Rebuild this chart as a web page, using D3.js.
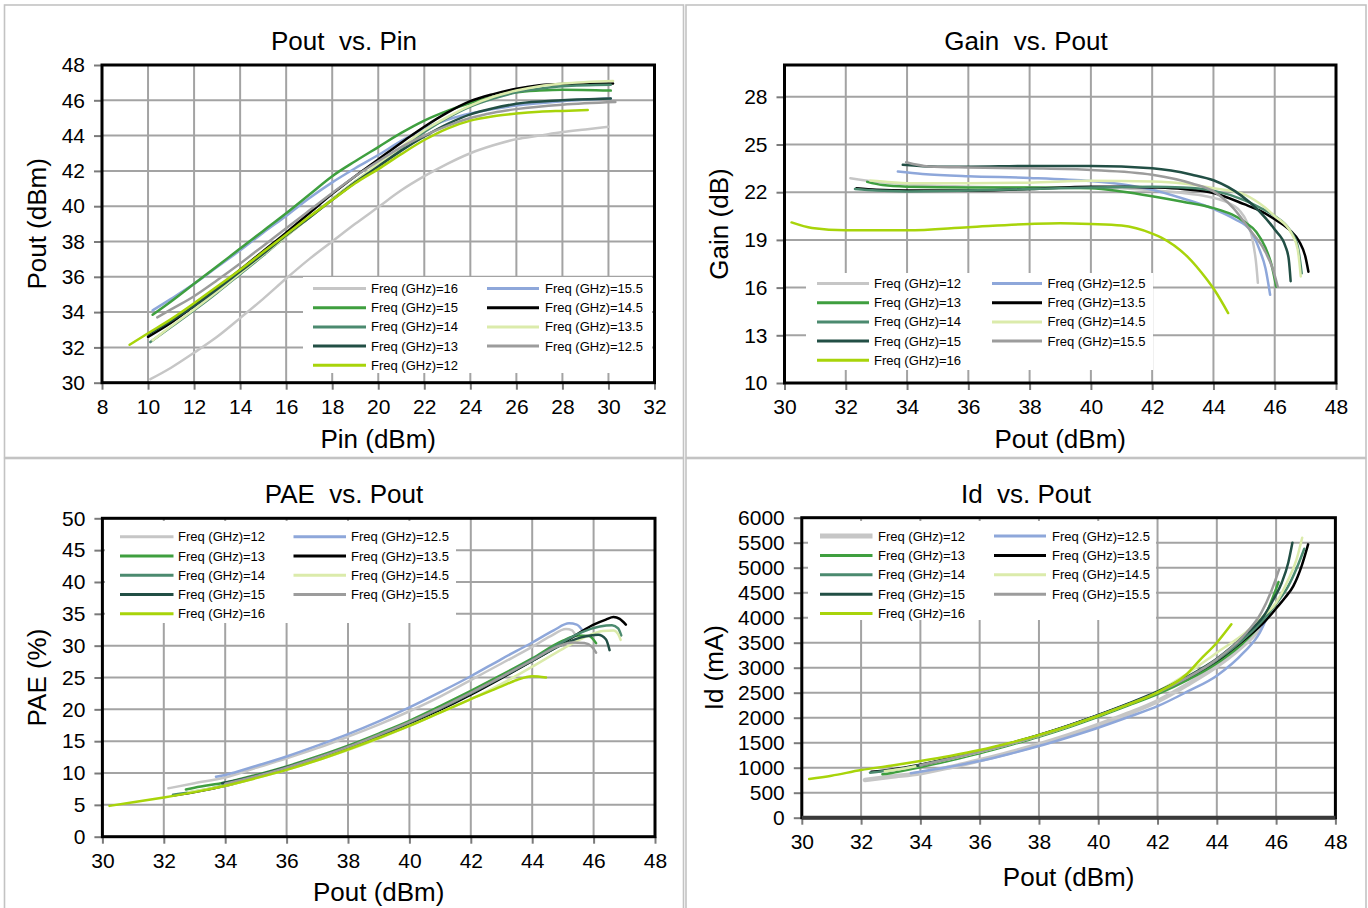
<!DOCTYPE html>
<html>
<head>
<meta charset="utf-8">
<script src="https://cdn.jsdelivr.net/npm/d3@7"></script>
<style>
  body { margin: 0; background: #fff; }
  text { font-family: "Liberation Sans", Arial, sans-serif; fill: #000; }
</style>
</head>
<body>
<svg id="chart" width="1368" height="908"></svg>
<script>
// ---- series definitions ----------------------------------------------------
const freqLabels = ["12", "12.5", "13", "13.5", "14", "14.5", "15", "15.5", "16"];
// the Pout-vs-Pin legend lists the same colours in the opposite frequency order
const pinLegendLabels = ["16", "15.5", "15", "14.5", "14", "13.5", "13", "12.5", "12"];
const seriesColors = ["#c6c6c6", "#8ea7da", "#3f9f3f", "#000000", "#4b8a6f",
                      "#dbebab", "#224f45", "#9c9c9c", "#a8d40a"];

// ---- Pout (dBm) vs Pin (dBm), in Pout-vs-Pin legend order -----------------
const poutVsPin = [
  [[10.1,30.2],[11,30.85],[12,31.7],[13,32.6],[14,33.66],[15,34.75],[16,35.9],[17,37.0],[18,38.0],[19,39.0],[20,39.95],[21,40.9],[22,41.7],[23,42.4],[24,43.0],[25,43.45],[26,43.8],[27,44.0],[28,44.2],[29,44.35],[30,44.5]],
  [[10.2,34.1],[11,34.75],[12,35.6],[13,36.55],[14,37.5],[15,38.5],[16,39.45],[17,40.45],[18,41.35],[19,42.15],[20,42.9],[21,43.7],[22,44.4],[23,44.9],[24,45.25],[25,45.5],[26,45.7],[28,45.95],[30.1,46.1]],
  [[10.2,33.85],[11,34.6],[12,35.6],[13,36.6],[14,37.6],[15,38.6],[16,39.6],[17,40.65],[18,41.7],[19,42.55],[20,43.35],[21,44.15],[22,44.85],[23,45.4],[24,45.85],[25,46.2],[26,46.45],[27,46.55],[28,46.6],[30.1,46.55]],
  [[10.0,32.6],[11,33.4],[12,34.35],[13,35.35],[14,36.4],[15,37.45],[16,38.5],[17,39.6],[18,40.7],[19,41.7],[20,42.65],[21,43.6],[22,44.5],[23,45.3],[24,45.95],[25,46.35],[26,46.65],[27,46.85],[28,46.92],[30.2,46.95]],
  [[10.1,32.3],[11,33.15],[12,34.1],[13,35.1],[14,36.15],[15,37.2],[16,38.3],[17,39.35],[18,40.4],[19,41.4],[20,42.35],[21,43.3],[22,44.2],[23,45.0],[24,45.65],[25,46.1],[26,46.45],[27,46.65],[28,46.8],[30.1,46.88]],
  [[10.2,32.4],[11,33.2],[12,34.15],[13,35.15],[14,36.2],[15,37.25],[16,38.3],[17,39.35],[18,40.4],[19,41.4],[20,42.4],[21,43.35],[22,44.3],[23,45.05],[24,45.7],[25,46.2],[26,46.55],[27,46.8],[28,46.95],[30.2,47.1]],
  [[10.0,32.75],[11,33.5],[12,34.35],[13,35.3],[14,36.3],[15,37.3],[16,38.35],[17,39.35],[18,40.35],[19,41.35],[20,42.25],[21,43.15],[22,43.95],[23,44.65],[24,45.2],[25,45.55],[26,45.8],[28,46.0],[30.1,46.1]],
  [[10.4,33.7],[11,34.15],[12,34.9],[13,35.8],[14,36.75],[15,37.75],[16,38.75],[17,39.75],[18,40.75],[19,41.7],[20,42.55],[21,43.35],[22,44.0],[23,44.55],[24,45.0],[25,45.3],[26,45.5],[28,45.75],[30.3,45.9]],
  [[9.2,32.15],[10,32.8],[11,33.6],[12,34.5],[13,35.45],[14,36.4],[15,37.4],[16,38.4],[17,39.4],[18,40.35],[19,41.3],[20,42.1],[21,42.95],[22,43.75],[23,44.4],[24,44.85],[25,45.1],[26,45.25],[27,45.35],[28,45.4],[29.1,45.45]]
];

// ---- Gain (dB) vs Pout (dBm) ----------------------------------------------
const gainVsPout = [
  [[32.15,22.88],[33,22.65],[34,22.5],[35,22.4],[36,22.35],[38,22.3],[40,22.3],[41,22.25],[42.1,22.1],[43,21.95],[43.75,21.75],[44.4,21.4],[44.85,20.85],[45.1,20.1],[45.25,19.25],[45.4,17.4],[45.45,16.3]],
  [[33.7,23.3],[34.5,23.15],[36,23.0],[38,22.9],[40,22.7],[41,22.5],[42,22.15],[43,21.6],[44,20.95],[44.7,20.3],[45.2,19.6],[45.5,18.4],[45.7,17.2],[45.85,15.55]],
  [[32.7,22.65],[33.2,22.45],[34,22.35],[36,22.3],[38,22.3],[40,22.25],[41,22.05],[42,21.75],[43,21.4],[44,21.0],[44.6,20.6],[45,20.15],[45.4,19.5],[45.7,18.5],[45.9,17.4],[46.05,16.05]],
  [[32.35,22.25],[33,22.15],[34,22.1],[36,22.1],[38,22.2],[40,22.35],[41,22.35],[42,22.3],[43,22.2],[44,21.95],[45,21.25],[45.5,20.85],[46,20.3],[46.5,19.6],[46.8,18.9],[47.0,17.95],[47.1,17.0]],
  [[32.3,22.2],[33,22.1],[34,22.05],[36,22.1],[38,22.2],[40,22.3],[42,22.35],[43,22.3],[44,22.1],[45,21.5],[45.5,21.05],[46,20.5],[46.5,19.6],[46.75,18.6],[46.88,16.9]],
  [[32.8,22.73],[33.5,22.62],[34,22.57],[36,22.57],[38,22.6],[40,22.72],[42,22.67],[43,22.55],[44,22.25],[44.9,21.94],[45.5,21.3],[46,20.5],[46.55,19.4],[46.75,18.4],[46.85,16.7]],
  [[33.86,23.72],[35,23.6],[36,23.6],[38,23.65],[40,23.65],[42,23.5],[43.3,23.1],[44,22.75],[44.9,21.8],[45.5,20.8],[46,19.65],[46.35,18.6],[46.46,17.75],[46.52,16.4]],
  [[33.97,23.88],[34.7,23.62],[36,23.55],[38,23.5],[40,23.4],[42,23.1],[43.3,22.55],[44,22.05],[44.65,21.0],[45.2,19.6],[45.65,18.4],[45.95,17.1],[46.1,16.05]],
  [[30.23,20.1],[30.9,19.75],[32,19.6],[34,19.6],[36,19.8],[38,20.0],[39,20.05],[40,20.0],[41,19.9],[42,19.4],[42.3,19.15],[43.15,17.95],[43.75,16.6],[44.05,15.8],[44.48,14.4]]
];

// ---- PAE (%) vs Pout (dBm) ------------------------------------------------
const paeVsPout = [
  [[32.15,7.6],[33,8.4],[34,9.3],[35,10.8],[36,12.3],[37,13.9],[38,15.7],[39,17.6],[40,19.7],[41,22.0],[42,24.6],[43,27.2],[44,29.8],[44.6,31.5],[45.1,32.6],[45.3,32.4],[45.42,31.5]],
  [[33.7,9.4],[34,9.7],[35,11.1],[36,12.6],[37,14.3],[38,16.1],[39,18.1],[40,20.3],[41,22.7],[42,25.2],[43,27.9],[44,30.5],[44.7,32.4],[45.2,33.5],[45.45,33.3],[45.65,32.3]],
  [[32.72,7.4],[33,7.7],[34,8.5],[35,9.7],[36,11.05],[37,12.6],[38,14.3],[39,16.2],[40,18.2],[41,20.5],[42,22.9],[43,25.4],[44,28.0],[45,30.8],[45.5,31.6],[45.85,31.5],[46.08,30.4]],
  [[32.35,6.5],[33,7.0],[34,8.0],[35,9.3],[36,10.7],[37,12.2],[38,13.9],[39,15.7],[40,17.7],[41,19.9],[42,22.3],[43,24.9],[44,27.6],[45,30.4],[45.5,31.9],[46,33.3],[46.4,34.1],[46.65,34.5],[46.85,34.2],[47.05,33.3]],
  [[32.3,6.6],[33,7.1],[34,8.1],[35,9.4],[36,10.8],[37,12.35],[38,14.0],[39,15.9],[40,17.9],[41,20.1],[42,22.5],[43,25.1],[44,27.8],[45,30.6],[45.6,32.1],[46.2,33.0],[46.6,33.2],[46.8,32.7],[46.9,31.6]],
  [[32.8,7.0],[33,7.15],[34,8.0],[35,9.2],[36,10.5],[37,12.0],[38,13.6],[39,15.4],[40,17.4],[41,19.5],[42,21.6],[43,24.0],[44,26.7],[45,29.5],[45.7,31.3],[46.3,32.3],[46.65,32.4],[46.8,31.8],[46.88,30.9]],
  [[33.9,8.4],[35,9.55],[36,10.9],[37,12.4],[38,14.1],[39,15.9],[40,17.9],[41,20.1],[42,22.5],[43,25.0],[44,27.6],[45,30.2],[45.6,31.3],[46.15,31.7],[46.4,31.0],[46.52,29.3]],
  [[34.0,8.3],[35,9.5],[36,10.85],[37,12.4],[38,14.1],[39,16.0],[40,18.0],[41,20.2],[42,22.6],[43,25.1],[44,27.7],[44.8,29.8],[45.3,30.5],[45.7,30.4],[45.95,29.8],[46.08,28.9]],
  [[30.23,4.84],[31,5.4],[32,6.16],[33,7.0],[34,8.0],[35,9.2],[36,10.5],[37,12.0],[38,13.7],[39,15.5],[40,17.4],[41,19.5],[42,21.6],[43,23.6],[43.5,24.6],[44.0,25.2],[44.45,25.0]]
];

// ---- Id (mA) vs Pout (dBm) ------------------------------------------------
const idVsPout = [
  [[32.13,753],[33,820],[34,890],[35,1010],[36,1150],[37,1300],[38,1465],[39,1650],[40,1855],[41,2080],[42,2330],[43,2660],[44,3030],[44.6,3300],[45.1,3560],[45.45,3780]],
  [[33.68,887],[34,920],[35,1020],[36,1133],[37,1275],[38,1433],[39,1610],[40,1800],[41,2010],[42,2230],[43,2520],[44,2840],[44.9,3300],[45.45,3700],[45.74,4067]],
  [[32.72,867],[33,890],[34,1010],[35,1145],[36,1290],[37,1450],[38,1620],[39,1810],[40,2020],[41,2240],[42,2470],[43,2750],[44,3090],[45,3560],[45.6,4000],[46.08,4713]],
  [[32.35,920],[33,960],[34,1060],[35,1190],[36,1330],[37,1480],[38,1650],[39,1840],[40,2050],[41,2270],[42,2510],[43,2800],[44,3140],[45,3600],[45.58,3900],[46.02,4200],[46.3,4400],[46.58,4633],[46.86,5033],[47.08,5467]],
  [[32.3,900],[33,950],[34,1050],[35,1180],[36,1320],[37,1475],[38,1645],[39,1835],[40,2045],[41,2265],[42,2505],[43,2800],[44,3150],[45,3620],[45.6,3980],[46,4280],[46.4,4620],[46.7,5000],[46.95,5380]],
  [[32.8,930],[33,945],[34,1045],[35,1175],[36,1315],[37,1470],[38,1640],[39,1830],[40,2040],[41,2270],[42,2530],[43,2880],[44,3300],[45,3720],[45.5,4000],[46,4300],[46.36,4700],[46.69,5167],[46.88,5600]],
  [[33.9,1040],[34,1050],[35,1185],[36,1330],[37,1485],[38,1655],[39,1845],[40,2055],[41,2280],[42,2525],[43,2820],[44,3180],[45,3680],[45.58,4033],[45.91,4367],[46.19,4700],[46.41,5100],[46.55,5500]],
  [[34,1050],[35,1180],[36,1320],[37,1470],[38,1640],[39,1830],[40,2040],[41,2260],[42,2500],[43,2800],[44,3170],[45,3700],[45.5,4100],[45.85,4550],[46.11,4980]],
  [[30.25,773],[31,840],[32,953],[33,1040],[34,1133],[35,1235],[36,1353],[37,1495],[38,1653],[39,1835],[40,2040],[41,2260],[42,2507],[42.95,2853],[43.45,3167],[44,3500],[44.49,3867]]
];

// ---- axis ticks ----------------------------------------------------------
const pinTicks   = d3.range(8, 33, 2);
const poutTicks  = d3.range(30, 49, 2);
const gainTicks  = d3.range(10, 29, 3);
const paeTicks   = d3.range(0, 51, 5);
const idTicks    = d3.range(0, 6001, 500);

// ---- layout --------------------------------------------------------------
const panels = [
  {
    border: [4.5, 5, 683.5, 457.5],
    plot: {left: 102, right: 654.5, top: 65, bottom: 382.7},
    xDomain: [8, 32], yDomain: [30, 48], xTicks: pinTicks, yTicks: poutTicks,
    title: "Pout  vs. Pin", titleY: 50,
    xTitle: "Pin (dBm)", xTitleY: 448, yTitle: "Pout (dBm)", yTitleX: 46,
    legend: {box: [303, 277, 349, 96], sw1: [313, 366], tx1: 371, sw2: [487, 539], tx2: 545, y0: 288.5, dy: 19.2},
    labels: pinLegendLabels, data: poutVsPin, widths: null
  },
  {
    border: [686, 5, 1366, 457.5],
    plot: {left: 784.5, right: 1336, top: 65, bottom: 383},
    xDomain: [30, 48], yDomain: [10, 30], xTicks: poutTicks, yTicks: gainTicks,
    title: "Gain  vs. Pout", titleY: 50,
    xTitle: "Pout (dBm)", xTitleY: 448, yTitle: "Gain (dB)", yTitleX: 728,
    legend: {box: [806, 273, 347, 97], sw1: [817, 869], tx1: 874, sw2: [992, 1042], tx2: 1047.5, y0: 283.5, dy: 19.2},
    labels: freqLabels, data: gainVsPout, widths: null
  },
  {
    border: [4.5, 458.5, 683.5, 920],
    plot: {left: 102.4, right: 655, top: 518.3, bottom: 836.7},
    xDomain: [30, 48], yDomain: [0, 50], xTicks: poutTicks, yTicks: paeTicks,
    title: "PAE  vs. Pout", titleY: 503,
    xTitle: "Pout (dBm)", xTitleY: 901, yTitle: "PAE (%)", yTitleX: 46,
    legend: {box: [105, 521, 351, 102], sw1: [120, 173.5], tx1: 178, sw2: [293.5, 346], tx2: 351, y0: 536.7, dy: 19.25},
    labels: freqLabels, data: paeVsPout, widths: null
  },
  {
    border: [686, 458.5, 1366, 920],
    plot: {left: 801.8, right: 1335.4, top: 517.7, bottom: 817.7},
    xDomain: [30, 48], yDomain: [0, 6000], xTicks: poutTicks, yTicks: idTicks,
    title: "Id  vs. Pout", titleY: 503,
    xTitle: "Pout (dBm)", xTitleY: 886, yTitle: "Id (mA)", yTitleX: 723,
    legend: {box: [808, 521, 348, 99], sw1: [820, 872.5], tx1: 878, sw2: [994, 1046], tx2: 1052, y0: 536, dy: 19.4},
    labels: freqLabels, data: idVsPout, widths: [4.5, 2.5, 2.5, 2.5, 2.5, 2.5, 2.5, 2.5, 2.5],
    bottomFrame: "#3a3a3a"
  }
];

const svg = d3.select("#chart");
const GRID = "#a3a3a3";

panels.forEach((p, pi) => {
  const g = svg.append("g");
  const [bx0, by0, bx1, by1] = p.border;
  g.append("rect").attr("x", bx0).attr("y", by0).attr("width", bx1 - bx0).attr("height", by1 - by0)
    .attr("fill", "#fff").attr("stroke", "#c3c3c3").attr("stroke-width", 1.6);

  const x = d3.scaleLinear().domain(p.xDomain).range([p.plot.left, p.plot.right]);
  const y = d3.scaleLinear().domain(p.yDomain).range([p.plot.bottom, p.plot.top]);

  // gridlines
  const grid = g.append("g").attr("stroke", GRID).attr("stroke-width", 2);
  p.xTicks.filter(t => t > p.xDomain[0] && t < p.xDomain[1]).forEach(t => {
    grid.append("line").attr("x1", x(t)).attr("x2", x(t)).attr("y1", p.plot.top).attr("y2", p.plot.bottom);
  });
  p.yTicks.filter(t => t > p.yDomain[0] && t < p.yDomain[1]).forEach(t => {
    grid.append("line").attr("y1", y(t)).attr("y2", y(t)).attr("x1", p.plot.left).attr("x2", p.plot.right);
  });

  // axes: short outside ticks and labels
  const xAxis = d3.axisBottom(x).tickValues(p.xTicks).tickSize(7).tickPadding(9).tickFormat(d3.format("d"));
  const yAxis = d3.axisLeft(y).tickValues(p.yTicks).tickSize(8).tickPadding(9).tickFormat(d3.format("d"));
  const xa = g.append("g").attr("transform", `translate(0,${p.plot.bottom})`).call(xAxis);
  const ya = g.append("g").attr("transform", `translate(${p.plot.left},0)`).call(yAxis);
  [xa, ya].forEach(a => {
    a.select(".domain").remove();
    a.selectAll(".tick line").attr("stroke", "#7a7a7a").attr("stroke-width", 2);
    a.selectAll(".tick text").attr("font-size", 21).attr("fill", "#000")
      .style("font-family", '"Liberation Sans", Arial, sans-serif');
  });

  // legend box sits above the gridlines
  const L = p.legend;
  g.append("rect").attr("x", L.box[0]).attr("y", L.box[1]).attr("width", L.box[2]).attr("height", L.box[3]).attr("fill", "#fff");
  const lg = g.append("g");
  p.labels.forEach((lab, i) => {
    const col = i % 2, row = Math.floor(i / 2);
    const sw = col === 0 ? L.sw1 : L.sw2;
    const tx = col === 0 ? L.tx1 : L.tx2;
    const yy = L.y0 + row * L.dy;
    lg.append("line").attr("x1", sw[0]).attr("x2", sw[1]).attr("y1", yy).attr("y2", yy)
      .attr("stroke", seriesColors[i]).attr("stroke-width", p.widths ? p.widths[i] + 0.5 : 3);
    lg.append("text").attr("x", tx).attr("y", yy).attr("dy", "0.35em").attr("font-size", 13)
      .text("Freq (GHz)=" + lab);
  });

  // curves
  const clipId = "clip" + pi;
  svg.append("clipPath").attr("id", clipId).append("rect")
    .attr("x", p.plot.left).attr("y", p.plot.top)
    .attr("width", p.plot.right - p.plot.left).attr("height", p.plot.bottom - p.plot.top);
  const line = d3.line().x(d => x(d[0])).y(d => y(d[1])).curve(d3.curveMonotoneX);
  const cg = g.append("g").attr("clip-path", `url(#${clipId})`);
  p.data.forEach((s, i) => {
    cg.append("path").attr("d", line(s)).attr("fill", "none")
      .attr("stroke", seriesColors[i]).attr("stroke-width", p.widths ? p.widths[i] : 2.5)
      .attr("stroke-linecap", "round").attr("stroke-linejoin", "round");
  });

  // plot frame
  g.append("rect").attr("x", p.plot.left).attr("y", p.plot.top)
    .attr("width", p.plot.right - p.plot.left).attr("height", p.plot.bottom - p.plot.top)
    .attr("fill", "none").attr("stroke", "#000").attr("stroke-width", 3);
  if (p.bottomFrame) {
    g.append("line").attr("x1", p.plot.left).attr("x2", p.plot.right)
      .attr("y1", p.plot.bottom).attr("y2", p.plot.bottom)
      .attr("stroke", p.bottomFrame).attr("stroke-width", 4);
  }

  // titles
  const cx = (bx0 + bx1) / 2;
  g.append("text").attr("x", cx).attr("y", p.titleY).attr("text-anchor", "middle")
    .attr("font-size", 26).style("white-space", "pre").text(p.title);
  g.append("text").attr("x", (p.plot.left + p.plot.right) / 2).attr("y", p.xTitleY)
    .attr("text-anchor", "middle").attr("font-size", 26).text(p.xTitle);
  const cy = (p.plot.top + p.plot.bottom) / 2;
  g.append("text").attr("transform", `translate(${p.yTitleX},${cy}) rotate(-90)`)
    .attr("text-anchor", "middle").attr("font-size", 26).text(p.yTitle);
});
</script>
</body>
</html>
